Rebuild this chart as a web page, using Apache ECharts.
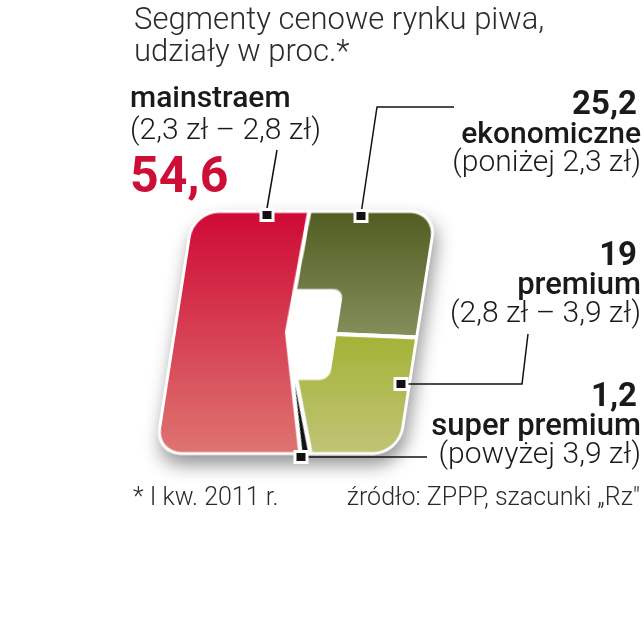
<!DOCTYPE html>
<html><head><meta charset="utf-8">
<script src="https://cdn.jsdelivr.net/npm/echarts@6/dist/echarts.min.js"></script>
<style>
html,body{margin:0;padding:0;background:#fff;width:644px;height:640px;overflow:hidden;}
#wrap{position:absolute;left:0;top:0;width:644px;height:640px;transform:skewX(-8.8deg);transform-origin:287px 332px;filter:drop-shadow(4px 10px 9px rgba(0,0,0,0.42));}
#outline{position:absolute;left:173px;top:210px;width:246px;height:245px;border-radius:27px;background:#fff;}
#pie{position:absolute;left:0;top:0;width:644px;height:640px;clip-path:inset(213px 228px 188px 176px round 24px);}
#labels{position:absolute;left:0;top:0;width:644px;height:640px;}
</style></head><body>
<div id="wrap"><div id="outline"></div><div id="pie"></div></div>
<div id="labels"></div>
<script>
// ---- data ----
const categories = ['ekonomiczne', 'premium', 'super premium', 'mainstraem'];
const priceRanges = ['(poniżej 2,3 zł)', '(2,8 zł – 3,9 zł)', '(powyżej 3,9 zł)', '(2,3 zł – 2,8 zł)'];
const shares = [25.2, 19, 1.2, 54.6];
const titleLines = ['Segmenty cenowe rynku piwa,', 'udziały w proc.*'];
const footnote = '* I kw. 2011 r.';
const sourceNote = 'źródło: ZPPP, szacunki „Rz"';

// ---- styles ----
const grad = (stops) => ({type: 'linear', x: 0, y: 213, x2: 0, y2: 452, global: true, colorStops: stops});
const sliceColors = [
  grad([{offset: 0, color: '#515d21'}, {offset: 0.6, color: '#8c9865'}, {offset: 1, color: '#9aa676'}]),
  grad([{offset: 0, color: '#98aa2c'}, {offset: 0.55, color: '#a6b43c'}, {offset: 1, color: '#c0c476'}]),
  grad([{offset: 0, color: '#222'}, {offset: 1, color: '#111'}]),
  grad([{offset: 0, color: '#cf0a36'}, {offset: 1, color: '#de7470'}])
];
const fmt = v => String(v).replace('.', ',');

function pieSeries(showIdx, z) {
  return {
    type: 'pie', center: [287, 332], radius: [0, 210], startAngle: 88.3, clockwise: true,
    z: z, silent: true, label: {show: false}, labelLine: {show: false},
    emphasis: {disabled: true}, animation: false,
    data: shares.map((v, i) => ({
      name: categories[i], value: v,
      itemStyle: showIdx(i)
        ? {color: sliceColors[i], borderColor: '#fff', borderWidth: 4}
        : {color: 'rgba(0,0,0,0)', borderWidth: 0}
    }))
  };
}

const pie = echarts.init(document.getElementById('pie'), null, {renderer: 'canvas'});
pie.setOption({
  backgroundColor: 'transparent',
  animation: false,
  series: [pieSeries(i => i !== 3, 1), pieSeries(i => i === 3, 10)],
  graphic: [{type: 'rect', z: 5, silent: true, shape: {x: 268, y: 289, width: 69, height: 91, r: 10}, style: {fill: '#fff'}}]
});

// ---- labels ----
const LIGHT = '300 30px Roboto', MED = '500 30px Roboto', BOLD = '700 33px Roboto';
const g = [];
function txt(text, x, y, font, fill, align) {
  g.push({type: 'text', z: 20, silent: true, style: {text: text, x: x, y: y, font: font, fill: fill, textAlign: align || 'left', textVerticalAlign: 'middle'}});
}
txt(titleLines[0], 134, 21, '300 31px Roboto', '#2b2b2b');
txt(titleLines[1], 134, 53, '300 31px Roboto', '#2b2b2b');
// mainstream (left)
txt(categories[3], 130, 99.5, MED, '#1a1a1a');
txt(priceRanges[3], 130, 131.5, LIGHT, '#1a1a1a');
txt(fmt(shares[3]), 130, 179, '700 50px Roboto', '#cd0f37');
// right column
const rightRows = [[0, 106], [1, 257], [2, 398]];
rightRows.forEach(([i, y]) => {
  txt(fmt(shares[i]), 637, y, BOLD, '#1a1a1a', 'right');
  txt(categories[i], 641, y + 29, i === 0 ? MED : '500 31px Roboto', '#1a1a1a', 'right');
  txt(priceRanges[i], 641, y + 57, LIGHT, '#1a1a1a', 'right');
});
txt(footnote, 133, 499, '300 25px Roboto', '#2b2b2b');
txt(sourceNote, 640, 499, '300 25px Roboto', '#2b2b2b', 'right');

// leader lines
function line(points) {
  g.push({type: 'polyline', z: 15, silent: true, shape: {points: points}, style: {stroke: '#111', lineWidth: 1.5, fill: null}});
}
line([[277, 150], [266, 214]]);
line([[361, 214], [377, 107], [454, 107]]);
line([[401, 384], [522, 384], [528, 334]]);
line([[301, 457], [427, 457]]);
// markers
function marker(cx, cy) {
  g.push({type: 'rect', z: 16, silent: true, shape: {x: cx - 6, y: cy - 5.5, width: 12, height: 11}, style: {fill: '#111', stroke: '#fff', lineWidth: 3}});
}
marker(267, 215); marker(361, 216); marker(401, 384); marker(301, 457);

const lab = echarts.init(document.getElementById('labels'), null, {renderer: 'canvas'});
lab.setOption({backgroundColor: 'transparent', animation: false, graphic: g});
</script>
</body></html>
